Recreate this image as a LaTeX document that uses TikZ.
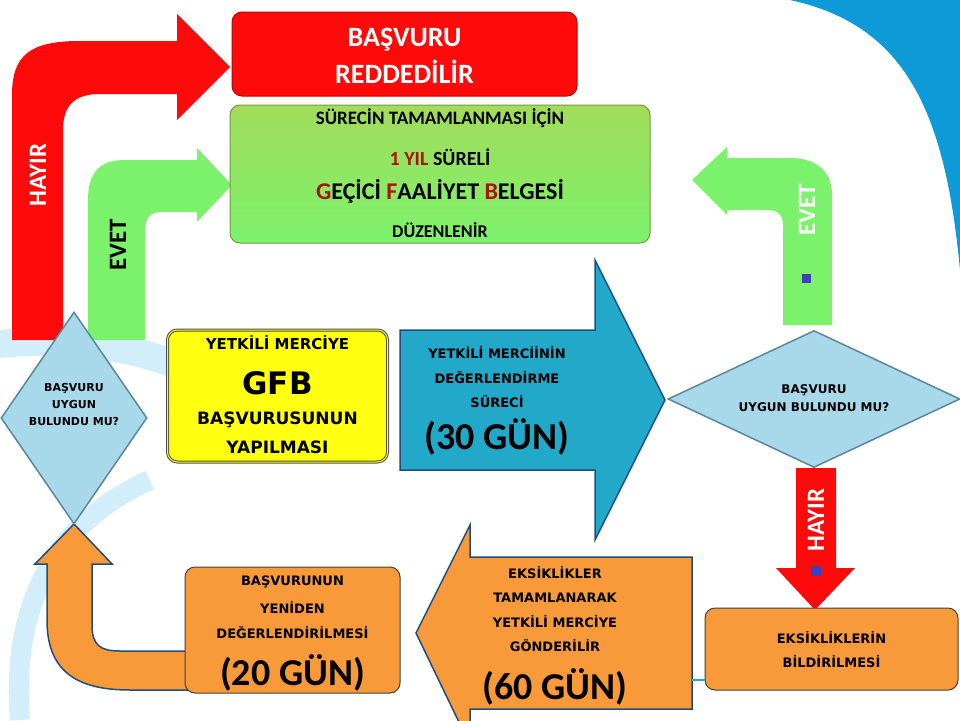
\documentclass[tikz,border=0pt]{standalone}
\usepackage{fontspec}
\setmainfont{DejaVu Sans}
\newfontfamily\calfont{Carlito}
\usetikzlibrary{shapes.geometric}
\definecolor{cred}{HTML}{FF0A0A}
\definecolor{cgreen}{HTML}{7CF26C}
\definecolor{cgreenb}{HTML}{A2DC5A}
\definecolor{cblue}{HTML}{22A8C8}
\definecolor{corange}{HTML}{F89A3A}
\definecolor{cyel}{HTML}{FFFF10}
\definecolor{cdia}{HTML}{A8D9EA}
\definecolor{cdiab}{HTML}{5B8799}
\definecolor{cnavy}{HTML}{1F4E79}
\definecolor{cdred}{HTML}{B01010}
\definecolor{cbg}{HTML}{0E9AD7}
\definecolor{cbgl}{HTML}{D2EEFA}
\begin{document}
\begin{tikzpicture}[x=1pt,y=-1pt,
  rbox/.style={rounded corners=10pt,draw=#1!70!black,line width=1pt},
  t/.style={font=\bfseries\fontsize{#1}{#1}\selectfont,inner sep=0,align=center},
  c/.style={font=\calfont\bfseries\fontsize{#1}{#1}\selectfont,inner sep=0,align=center}]
\useasboundingbox (0,0) rectangle (960,720);
\begin{scope}
\clip (0,0) rectangle (960,720);
% background
\fill[cbg] (790,0) .. controls (905,25) and (945,110) .. (960,270) -- (960,0) -- cycle;
\draw[cbgl,line width=28pt] (-10,345) .. controls (120,330) and (230,370) .. (280,440);
\draw[cbgl,line width=20pt] (20,720) .. controls (10,600) and (60,520) .. (150,480);
% red arrow
\fill[cred] (12,340) -- (12,95) .. controls (12,55) and (30,41) .. (80,41) -- (177,41) -- (177,14) -- (230,67) -- (177,120) -- (177,94) -- (100,94) .. controls (75,94) and (63,105) .. (63,130) -- (63,340) -- cycle;
\node[c=25,text=white,rotate=90] (hl) at (38,175) {HAYIR};
% green left arrow
\fill[cgreen] (88,340) -- (88,200) .. controls (88,172) and (100,160) .. (125,160) -- (197,160) -- (197,148) -- (232,185) -- (197,222) -- (197,212) -- (162,212) .. controls (150,212) and (145,218) .. (145,230) -- (145,340) -- cycle;
\node[c=25,rotate=90] (el) at (118,245) {EVET};
% right green arrow
\fill[cgreen] (783,325) -- (783,225) .. controls (783,215) and (778,210) .. (768,210) -- (727,210) -- (727,215) -- (692,180) -- (727,147) -- (727,158) -- (790,158) .. controls (815,158) and (832,170) .. (832,195) -- (832,325) -- cycle;
\node[c=25,text=white,rotate=90] (er) at (807,210) {EVET};
\fill[blue!50!gray] (802,274) rectangle (811,283);
% red down arrow
\fill[cred] (796,468) -- (796,568) -- (776,568) -- (815,610) -- (855,568) -- (836,568) -- (836,468) -- cycle;
\node[c=25,text=white,rotate=90] (hr) at (816,520) {HAYIR};
\fill[blue!50!gray] (811,566) rectangle (821,576);
% blue arrow
\draw[fill=cblue,draw=cnavy,line width=1.5pt] (400,330) -- (595,330) -- (595,260) -- (665,400) -- (595,540) -- (595,470) -- (400,470) -- cycle;
\node[t=13] (b1) at (497,353) {YETKİLİ MERCİİNİN};
\node[t=13] (b2) at (497,378) {DEĞERLENDİRME};
\node[t=13] (b3) at (497,402) {SÜRECİ};
\node[c=38] (b4) at (497,437) {(30 GÜN)};
% orange big arrow
\draw[fill=corange,draw=cnavy,line width=1.5pt] (692,557) -- (470,557) -- (470,525) -- (416,633) -- (470,745) -- (470,709) -- (692,709) -- cycle;
\node[t=13] (o1) at (555,573) {EKSİKLİKLER};
\node[t=13] (o2) at (555,598) {TAMAMLANARAK};
\node[t=13] (o3) at (555,622) {YETKİLİ MERCİYE};
\node[t=13] (o4) at (555,646) {GÖNDERİLİR};
\node[c=38] (o5) at (555,687) {(60 GÜN)};
% orange U arrow
\draw[fill=corange,draw=cnavy,line width=1.5pt] (190,690) -- (130,690) .. controls (75,690) and (47,670) .. (47,620) -- (47,564) -- (35,564) -- (74,524) -- (112,564) -- (92,564) -- (92,625) .. controls (92,645) and (100,651) .. (120,651) -- (190,651);
\node[t=16,text=white] (nn) at (108,606) {n};
\end{scope}
% red box
\node[rbox=cred,fill=cred,minimum width=345pt,minimum height=84pt] (rej) at (404.5,54) {};
\node[c=28,text=white] at (404.5,40) {BAŞVURU};
\node[c=28,text=white] at (404.5,72) {REDDEDİLİR};
% green box
\node[rbox=cgreenb,top color=cgreenb,bottom color=cgreen,minimum width=420pt,minimum height=138pt] (gfb) at (440,174) {};
\node[c=19] at (440,118) {SÜRECİN TAMAMLANMASI İÇİN};
\node[c=20] at (440,157) {\textcolor{cdred}{1 YIL} SÜRELİ};
\node[c=24] at (440,191) {\textcolor{cdred}{G}EÇİCİ \textcolor{cdred}{F}AALİYET \textcolor{cdred}{B}ELGESİ};
\node[c=18] at (440,230) {DÜZENLENİR};
% yellow box
\node[rbox=cyel,fill=cyel,draw=black!70,double=cyel,double distance=1pt,minimum width=220pt,minimum height=132pt] (yel) at (277.5,396) {};
\node[t=15] at (277.5,343) {YETKİLİ MERCİYE};
\node[t=31] at (277.5,383) {GFB};
\node[t=17] at (277.5,420) {BAŞVURUSUNUN};
\node[t=17] at (277.5,447) {YAPILMASI};
% diamonds
\node[diamond,fill=cdia,draw=cdiab,line width=1.5pt,minimum width=146pt,minimum height=212pt,inner sep=0] (d1) at (74,418) {};
\node[t=11,align=center] at (74,404) {BAŞVURU\\[6pt]UYGUN\\[6pt]BULUNDU MU?};
\node[diamond,fill=cdia,draw=cdiab,line width=1.5pt,minimum width=292pt,minimum height=137pt,inner sep=0] (d2) at (814,399) {};
\node[t=12,align=center] at (814,398) {BAŞVURU\\[6pt]UYGUN BULUNDU MU?};
% orange boxes
\node[rbox=corange,fill=corange,draw=black!75,minimum width=215pt,minimum height=126pt] (re) at (292.5,630) {};
\node[t=13] at (292.5,582) {BAŞVURUNUN};
\node[t=13] at (292.5,607) {YENİDEN};
\node[t=13] at (292.5,633) {DEĞERLENDİRİLMESİ};
\node[c=38] at (292.5,673) {(20 GÜN)};
\node[rbox=corange,fill=corange,draw=black!75,minimum width=253pt,minimum height=82pt] (eb) at (831.5,649) {};
\node[t=13] at (831.5,638) {EKSİKLİKLERİN};
\node[t=13] at (831.5,662) {BİLDİRİLMESİ};
\draw[cblue,line width=2pt] (692,680) -- (eb.west|-0,680);
\end{tikzpicture}
\end{document}
